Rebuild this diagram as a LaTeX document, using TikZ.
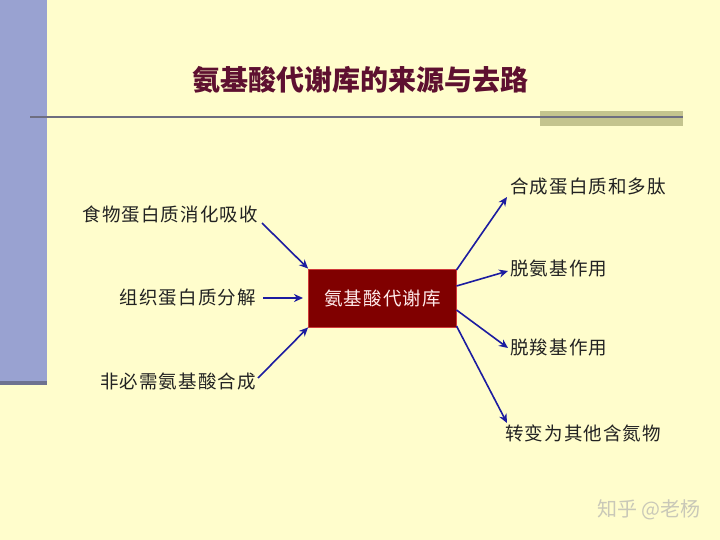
\documentclass[tikz,border=0pt]{standalone}
\usepackage{fontspec}
\newfontfamily\cjk[LetterSpace=6]{Noto Sans CJK SC}
\newfontfamily\cjktitle{Noto Sans CJK SC}
\usetikzlibrary{arrows.meta}
\definecolor{bg}{HTML}{FFFDCC}
\definecolor{sidebar}{HTML}{99A2D1}
\definecolor{sideedge}{HTML}{6E7290}
\definecolor{titlecol}{HTML}{5E1030}
\definecolor{rulecol}{HTML}{6E6E80}
\definecolor{olive}{HTML}{C4C48E}
\definecolor{boxfill}{HTML}{800000}
\definecolor{boxedge}{HTML}{D03A3A}
\definecolor{arrowcol}{HTML}{1C1CA0}
\definecolor{textcol}{HTML}{222222}
\definecolor{wm}{HTML}{C9C8B8}
\tikzset{
  lbl/.style={font=\cjk\fontsize{18.5}{19}\selectfont, text=textcol, inner sep=0pt},
  flow/.style={draw=arrowcol, line width=1.6pt, -{Stealth[length=9pt,width=8pt]}},
  hub/.style={fill=boxfill, draw=boxedge, line width=0.8pt, minimum width=148pt, minimum height=58pt, inner sep=0pt,
    font=\cjk\fontsize{18.5}{19}\selectfont, text=red!8}
}
\begin{document}
\begin{tikzpicture}[x=1pt,y=-1pt]
\useasboundingbox (0,0) rectangle (720,540);
\fill[bg] (0,0) rectangle (720,540);
% sidebar
\fill[sidebar] (0,0) rectangle (47,383);
\fill[sideedge] (0,381) rectangle (47,385);
% title
\node[font=\cjktitle\bfseries\fontsize{28}{30}\selectfont, text=titlecol, inner sep=0pt] (title) at (360,80) {氨基酸代谢库的来源与去路};
% rule
\fill[olive] (540,111) rectangle (683,126);
\draw[rulecol, line width=1.5pt] (30,117) -- (683,117);
% hub
\node[hub] (hub) at (382.5,298) {氨基酸代谢库};
% sources
\node[lbl, anchor=east] (s1) at (258,215) {食物蛋白质消化吸收};
\node[lbl, anchor=east] (s2) at (256,298) {组织蛋白质分解};
\node[lbl, anchor=east] (s3) at (256,382) {非必需氨基酸合成};
\coordinate (s1e) at (262,223);
\coordinate (s2e) at (263,298);
\coordinate (s3e) at (258,378);
\draw[flow] (s1e) -- (hub.north west);
\draw[flow] (s2e) -- (hub.west -| 303,0);
\draw[flow] (s3e) -- (hub.south west);
% destinations
\node[lbl, anchor=west] (d1) at (510,187) {合成蛋白质和多肽};
\node[lbl, anchor=west] (d2) at (510,268) {脱氨基作用};
\node[lbl, anchor=west] (d3) at (510,347) {脱羧基作用};
\node[lbl, anchor=west] (d4) at (505,433) {转变为其他含氮物};
\coordinate (h1) at (456.5,270);
\coordinate (h2) at (456.5,286);
\coordinate (h3) at (456.5,310);
\coordinate (h4) at (456.5,326);
\coordinate (t1) at (507,197);
\coordinate (t2) at (508,271);
\coordinate (t3) at (508,348);
\coordinate (t4) at (507,423);
\draw[flow] (h1) -- (t1);
\draw[flow] (h2) -- (t2);
\draw[flow] (h3) -- (t3);
\draw[flow] (h4) -- (t4);
% watermark
\node[font=\cjktitle\fontsize{20}{21}\selectfont, text=wm, inner sep=0pt, anchor=east] (wmk) at (701,510) {知乎 @老杨};
\end{tikzpicture}
\end{document}
